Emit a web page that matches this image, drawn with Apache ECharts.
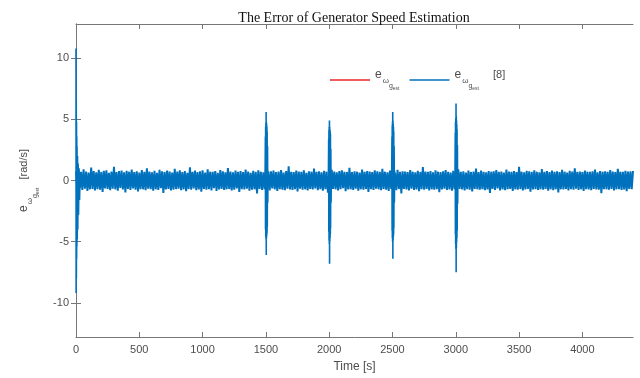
<!DOCTYPE html>
<html>
<head>
<meta charset="utf-8">
<script src="https://cdn.jsdelivr.net/npm/echarts@6/dist/echarts.min.js"></script>
<style>
  html, body { margin: 0; padding: 0; background: #fff; }
  #main { width: 640px; height: 378px; }
</style>
</head>
<body>
<div id="main"></div>
<script>
// tick labels
const xTicks = [0, 500, 1000, 1500, 2000, 2500, 3000, 3500, 4000];
const yTicks = [-10, -5, 0, 5, 10];

// steady-state noise of the [8] estimator, one sample every 10 s
const noiseStep = 10;
const noiseValues = [
  0.74,-0.69,0.81,-0.62,0.7,-0.78,0.92,-0.66,0.73,-0.85,0.64,-0.72,1.05,-0.7,0.77,-0.81,0.66,-0.71,0.88,-0.75,
  0.7,-0.93,0.79,-0.64,0.84,-0.69,0.63,-0.8,0.74,-0.67,1.12,-0.72,0.69,-0.84,0.78,-0.61,0.82,-0.74,0.66,-0.97,
  0.8,-0.68,0.72,-0.78,0.9,-0.64,0.69,-0.76,0.75,-0.89,0.65,-0.71,0.85,-0.72,0.71,-0.8,0.99,-0.66,0.74,-0.7,
  0.67,-0.83,0.79,-0.72,0.63,-0.77,0.87,-0.62,0.75,-1.02,0.7,-0.74,0.81,-0.68,0.73,-0.82,0.65,-0.76,0.95,-0.7,
  0.72,-0.66,0.84,-0.79,0.69,-0.72,0.77,-0.87,0.63,-0.7,1.08,-0.75,0.7,-0.65,0.82,-0.8,0.68,-0.73,0.76,-0.91,
  0.83,-0.69,0.65,-0.75,0.91,-0.71,0.72,-0.82,0.7,-0.63,0.78,-0.85,0.62,-0.74,0.86,-0.68,0.75,-0.78,0.67,-0.72,
  1.01,-0.7,0.73,-0.81,0.66,-0.76,0.82,-0.64,0.71,-0.94,0.77,-0.71,0.69,-0.73,0.89,-0.67,0.74,-0.84,0.63,-0.75,
  0.79,-0.72,0.7,-1.05,0.84,-0.68,0.72,-0.77,0.67,-0.71,0.92,-0.74,0.7,-0.82,0.75,-0.65,0.81,-0.72,0.68,-0.86,
  0.73,-0.7,0.85,-0.75,0.65,-0.8,0.78,-0.67,1.17,-0.73,0.71,-0.78,0.68,-0.7,0.82,-0.9,0.74,-0.66,0.7,-0.76,
  0.84,-0.72,0.63,-0.82,0.76,-0.69,0.72,-0.74,0.97,-0.64,0.7,-0.79,0.75,-0.71,0.67,-0.84,0.8,-0.7,0.72,-0.99,
  0.69,-0.75,0.88,-0.68,0.74,-0.72,0.66,-0.81,0.77,-0.7,0.83,-0.63,0.71,-0.87,0.7,-0.74,1.03,-0.72,0.68,-0.77,
  0.76,-0.67,0.72,-0.83,0.65,-0.72,0.9,-0.76,0.7,-0.69,0.78,-0.93,0.73,-0.71,0.68,-0.78,0.84,-0.66,0.75,-0.72,
  0.7,-0.8,0.96,-0.7,0.72,-0.75,0.67,-0.85,0.81,-0.68,0.74,-0.72,0.63,-0.79,0.87,-0.7,0.71,-1.06,0.76,-0.69,
  0.73,-0.74,0.69,-0.82,0.85,-0.67,0.72,-0.78,0.66,-0.73,0.8,-0.88,0.7,-0.71,1.09,-0.75,0.74,-0.68,0.7,-0.81,
  0.78,-0.72,0.67,-0.76,0.83,-0.7,0.72,-0.96,0.68,-0.74,0.75,-0.66,0.86,-0.78,0.7,-0.72,0.65,-0.83,0.79,-0.7,
  0.72,-0.77,0.91,-0.68,0.7,-0.74,0.76,-0.82,0.64,-0.71,0.81,-0.75,0.7,-0.89,0.74,-0.69,0.98,-0.72,0.68,-0.76,
  0.82,-0.7,0.71,-0.8,0.67,-0.73,0.78,-1.01,0.72,-0.68,0.75,-0.77,0.85,-0.65,0.7,-0.82,0.73,-0.72,0.65,-0.79,
  0.89,-0.71,0.74,-0.69,0.7,-0.85,0.77,-0.72,0.68,-0.76,1.12,-0.7,0.72,-0.81,0.66,-0.74,0.8,-0.68,0.75,-0.92,
  0.7,-0.73,0.84,-0.71,0.72,-0.78,0.67,-0.72,0.93,-0.75,0.71,-0.68,0.77,-0.84,0.69,-0.72,0.82,-0.79,0.7,-0.7,
  0.75,-0.98,0.68,-0.72,0.87,-0.74,0.72,-0.69,0.65,-0.82,0.79,-0.71,0.73,-0.76,1.0,-0.67,0.7,-0.78,0.74,-0.72,
  0.69,-0.85,0.82,-0.7,0.72,-0.74,0.7,-0.8,0.76,-0.68,0.9,-0.73,0.66,-0.76,0.78,-1.03,0.72,-0.71,0.75,-0.72,
  0.71,-0.76,0.85,-0.69,0.74,-0.82,0.68,-0.72,0.95,-0.71,0.72,-0.78,0.7,-0.74,0.8,-0.87,0.73,-0.68,0.76,-0.72,
  0.78
];

// transient bursts [time, error]
const burstStart = [[0,10.8],[1,-9.2],[2,6.5],[3,-8.0],[4,4.8],[5,-6.4],[6,3.6],[7,-5.4],[8,2.8],[10,-4.8],[12,2.0],[14,-4.0],[17,1.4],[20,-2.8],[24,1.0],[28,-1.6],[33,0.6]];
const burst1500 = [[1494,0.5],[1496,3.6],[1497,-4.0],[1498,4.4],[1499,-4.6],[1500,4.7],[1501,-4.8],[1502,5.6],[1503,-6.1],[1504,4.8],[1505,-4.7],[1506,4.6],[1507,-4.5],[1508,4.4],[1509,-4.3],[1510,4.0],[1511,-3.8],[1513,2.8],[1515,-1.8],[1517,0.8]];
const burst2000 = [[1994,0.5],[1996,3.4],[1997,-4.2],[1998,4.1],[1999,-4.9],[2000,4.4],[2001,-5.2],[2002,4.9],[2003,-6.8],[2004,4.4],[2005,-5.0],[2006,4.2],[2007,-4.7],[2008,4.0],[2009,-4.4],[2010,3.8],[2011,-3.9],[2013,2.6],[2015,-1.8],[2017,0.8]];
const burst2500 = [[2494,0.5],[2496,3.6],[2497,-4.1],[2498,4.5],[2499,-4.7],[2500,4.8],[2501,-5.0],[2502,5.6],[2503,-6.4],[2504,4.9],[2505,-4.9],[2506,4.6],[2507,-4.6],[2508,4.4],[2509,-4.4],[2510,4.0],[2511,-3.9],[2513,2.8],[2515,-1.8],[2517,0.8]];
const burst3000 = [[2994,0.5],[2996,3.9],[2997,-4.4],[2998,4.8],[2999,-5.2],[3000,5.1],[3001,-5.6],[3002,6.3],[3003,-7.5],[3004,5.3],[3005,-5.5],[3006,4.9],[3007,-5.0],[3008,4.6],[3009,-4.7],[3010,4.2],[3011,-4.1],[3013,2.9],[3015,-1.9],[3017,0.8]];

// proposed estimator (hidden under the [8] trace)
const ownTimes = [0, 400, 800, 1200, 1600, 2000, 2400, 2800, 3200, 3600, 4000, 4400];
const ownValues = [0.05, -0.06, 0.08, -0.04, 0.06, -0.07, 0.05, -0.05, 0.07, -0.06, 0.04, -0.05];

const BLUE = '#0072BD';
const RED = '#E8262A';
const AXIS = '#777777';
const TXT = '#4d4d4d';
const SANS = 'Liberation Sans, Arial, sans-serif';

const subRich = {
  e: { fontSize: 12, fontFamily: SANS, color: TXT, verticalAlign: 'top', padding: [0, 0, 0, 0] },
  w: { fontSize: 8, fontFamily: SANS, color: TXT, verticalAlign: 'top', padding: [8, 0, 0, 1] },
  g: { fontSize: 7, fontFamily: SANS, color: TXT, verticalAlign: 'top', padding: [14, 0, 0, 0] },
  est: { fontSize: 5, fontFamily: SANS, color: TXT, verticalAlign: 'top', padding: [17, 0, 0, 0] },
  u: { fontSize: 11, fontFamily: SANS, color: TXT, verticalAlign: 'top', padding: [0, 0, 0, 8] },
  ref: { fontSize: 11, fontFamily: SANS, color: TXT, verticalAlign: 'top', padding: [0, 0, 0, 14] }
};
const eLabel = '{e|e}{w|ω}{g|g}{est|est}';

const chart = echarts.init(document.getElementById('main'), null, { renderer: 'canvas' });

const baseY = {
  type: 'value', min: -12.8, max: 12.8,
  splitLine: { show: false },
  axisLine: { show: true, lineStyle: { color: AXIS, width: 1 } },
  axisTick: { show: true, inside: true, length: 5, customValues: yTicks, lineStyle: { color: AXIS } }
};
const baseX = {
  type: 'value', min: 0, max: 4400,
  splitLine: { show: false },
  axisLine: { show: true, onZero: false, lineStyle: { color: AXIS, width: 1 } },
  axisTick: { show: true, inside: true, length: 5, customValues: xTicks, lineStyle: { color: AXIS } }
};

const option = {
  animation: false,
  backgroundColor: '#fff',
  title: {
    text: 'The Error of Generator Speed Estimation',
    left: 349, top: 6, textAlign: 'center',
    textStyle: { fontFamily: 'Liberation Serif, serif', fontSize: 14, fontWeight: 'normal', color: '#111' }
  },
  grid: { left: 76, right: 7, top: 24, bottom: 38, containLabel: false },
  legend: {
    left: 325, top: 64,
    icon: 'rect',
    itemWidth: 40, itemHeight: 1.5, itemGap: 10,
    data: ['own', 'ref8'],
    formatter: n => n === 'own' ? eLabel : eLabel + '{ref|[8]}',
    textStyle: { rich: subRich, color: TXT }
  },
  xAxis: [
    Object.assign({}, baseX, {
      position: 'bottom',
      name: 'Time [s]', nameLocation: 'middle', nameGap: 24,
      nameTextStyle: { fontFamily: SANS, fontSize: 12, color: TXT },
      axisLabel: { customValues: xTicks, margin: 7, fontFamily: SANS, fontSize: 11, color: TXT, formatter: v => String(v) }
    }),
    Object.assign({}, baseX, { position: 'top', axisLabel: { show: false } })
  ],
  yAxis: [
    Object.assign({}, baseY, {
      position: 'left',
      name: eLabel + '{u|[rad/s]}', nameLocation: 'middle', nameGap: 36,
      nameTextStyle: { rich: subRich },
      axisLabel: { customValues: yTicks, margin: 7, fontFamily: SANS, fontSize: 11, color: TXT, formatter: v => String(v) }
    }),
    Object.assign({}, baseY, { position: 'right', axisLabel: { show: false } })
  ],
  series: [
    {
      name: 'own', type: 'line', symbol: 'none', z: 1,
      data: ownTimes.map((t, i) => [t, ownValues[i]]),
      lineStyle: { color: RED, width: 1 }, itemStyle: { color: RED }
    },
    {
      name: 'ref8', type: 'line', symbol: 'none', z: 2,
      data: noiseValues.map((v, i) => [i * noiseStep, v]),
      lineStyle: { color: BLUE, width: 2 }, itemStyle: { color: BLUE }
    }
  ].concat([burstStart, burst1500, burst2000, burst2500, burst3000].map(b => ({
    name: 'ref8', type: 'line', symbol: 'none', z: 3,
    data: b,
    lineStyle: { color: BLUE, width: 1.6 }, itemStyle: { color: BLUE }
  })))
};

chart.setOption(option);
</script>
</body>
</html>
